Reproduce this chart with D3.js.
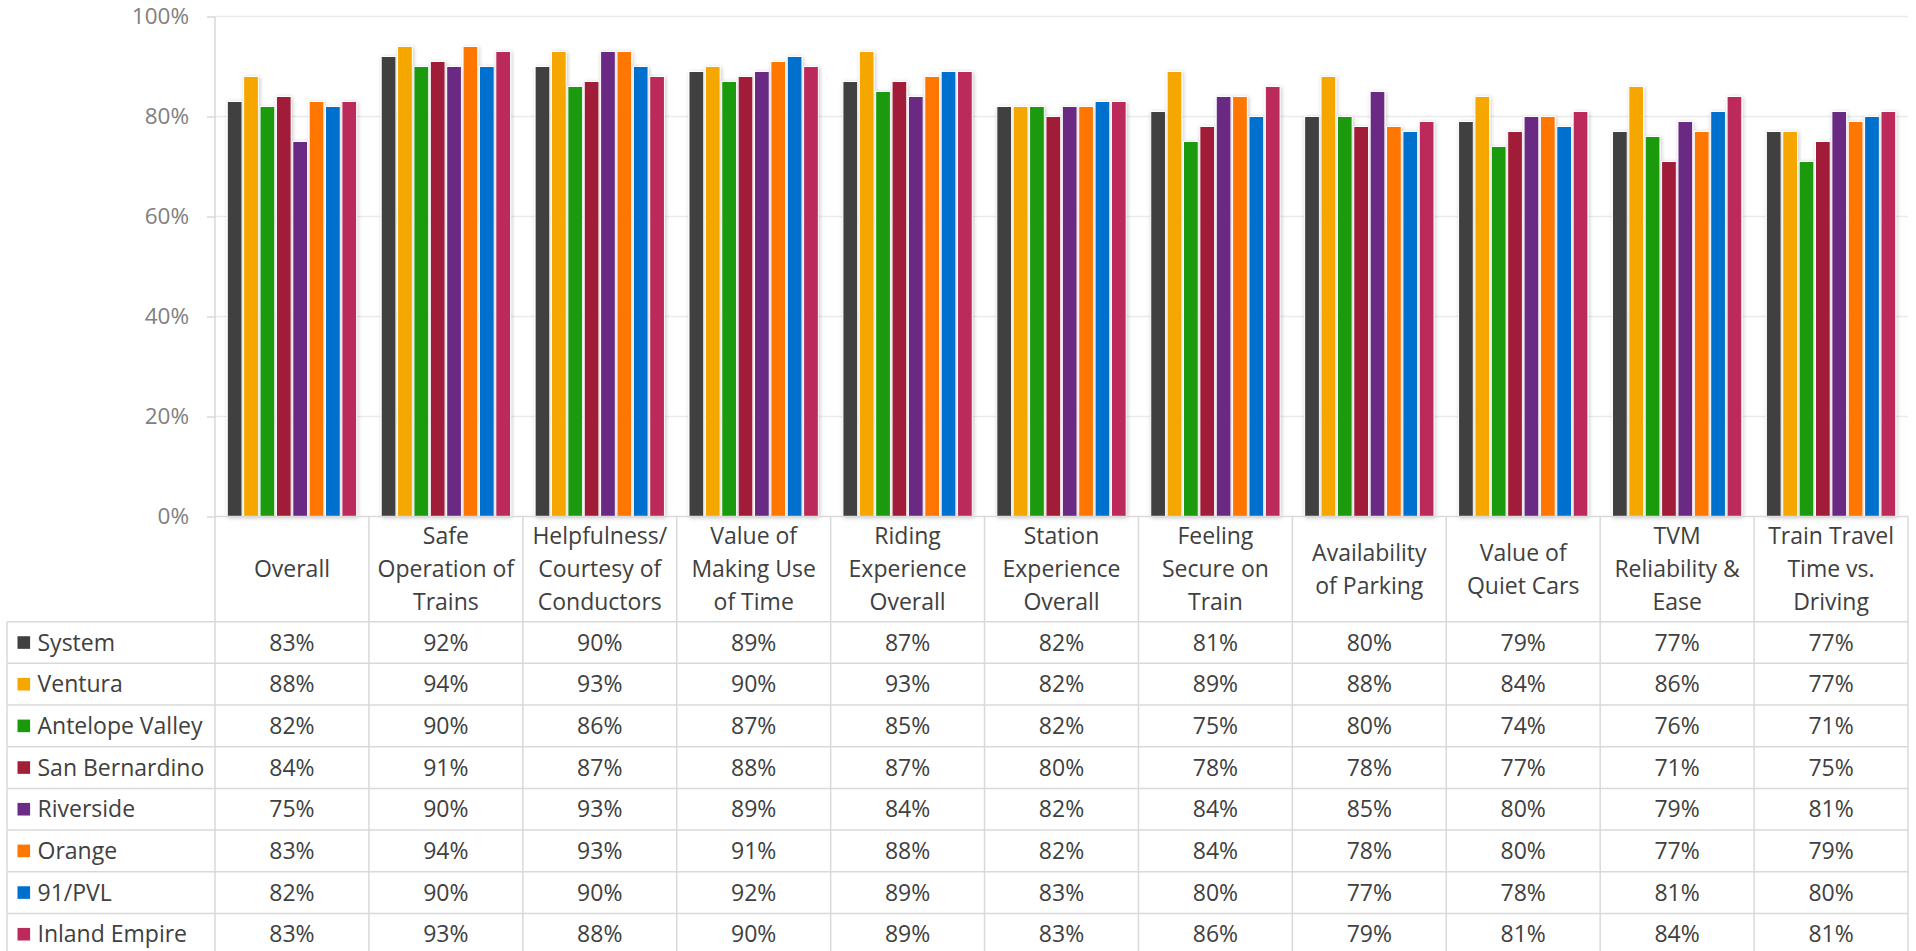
<!DOCTYPE html>
<html>
<head>
<meta charset="utf-8">
<script src="https://cdn.jsdelivr.net/npm/d3@7"></script>
<style>
  html, body { margin: 0; padding: 0; background: #fff; }
  svg { display: block; }
  text { font-family: "Open Sans", "Noto Sans", sans-serif; }
</style>
</head>
<body>
<svg id="chart" width="1916" height="951"></svg>
<script>
// ---------- DATA ----------
const categories = [
  "Overall", "Safe Operation of Trains", "Helpfulness/ Courtesy of Conductors",
  "Value of Making Use of Time", "Riding Experience Overall", "Station Experience Overall",
  "Feeling Secure on Train", "Availability of Parking", "Value of Quiet Cars",
  "TVM Reliability & Ease", "Train Travel Time vs. Driving"
];
const categoryLines = [
  ["Overall"], ["Safe", "Operation of", "Trains"], ["Helpfulness/", "Courtesy of", "Conductors"],
  ["Value of", "Making Use", "of Time"], ["Riding", "Experience", "Overall"], ["Station", "Experience", "Overall"],
  ["Feeling", "Secure on", "Train"], ["Availability", "of Parking"], ["Value of", "Quiet Cars"],
  ["TVM", "Reliability &", "Ease"], ["Train Travel", "Time vs.", "Driving"]
];
const seriesNames = ["System", "Ventura", "Antelope Valley", "San Bernardino", "Riverside", "Orange", "91/PVL", "Inland Empire"];
const seriesColors = ["#404040", "#F5A700", "#1A9A0A", "#A11F37", "#6A2C84", "#FF7700", "#0070CF", "#BC2A5C"];
const systemVals        = [83, 92, 90, 89, 87, 82, 81, 80, 79, 77, 77];
const venturaVals       = [88, 94, 93, 90, 93, 82, 89, 88, 84, 86, 77];
const antelopeVals      = [82, 90, 86, 87, 85, 82, 75, 80, 74, 76, 71];
const sanBernardinoVals = [84, 91, 87, 88, 87, 80, 78, 78, 77, 71, 75];
const riversideVals     = [75, 90, 93, 89, 84, 82, 84, 85, 80, 79, 81];
const orangeVals        = [83, 94, 93, 91, 88, 82, 84, 78, 80, 77, 79];
const pvlVals           = [82, 90, 90, 92, 89, 83, 80, 77, 78, 81, 80];
const inlandEmpireVals  = [83, 93, 88, 90, 89, 83, 86, 79, 81, 84, 81];
const seriesValues = [systemVals, venturaVals, antelopeVals, sanBernardinoVals, riversideVals, orangeVals, pvlVals, inlandEmpireVals];
const yTicks = [0, 20, 40, 60, 80, 100];

// ---------- LAYOUT ----------
const svg = d3.select("#chart");
const plotLeft = 215, plotRight = 1908;
const plotTop = 16.5, plotBottom = 516.5;
const tableLeft = 7;
const headerBottom = 621.7;
const rowH = 41.67;
const gridColor = "#D9D9D9";
const textColor = "#404040";
const fontSize = 23;

const x0 = d3.scaleBand().domain(categories).range([plotLeft, plotRight]).padding(0);
const x1 = d3.scaleBand().domain(seriesNames).range([0, x0.bandwidth()]).paddingInner(0.1).paddingOuter(0.75);
const y = d3.scaleLinear().domain([0, 100]).range([plotBottom, plotTop]);

const defs = svg.append("defs");
const f = defs.append("filter").attr("id", "shadow").attr("x", "-30%").attr("y", "-10%").attr("width", "160%").attr("height", "120%");
f.append("feDropShadow").attr("dx", 1).attr("dy", 1).attr("stdDeviation", 2).attr("flood-color", "#000").attr("flood-opacity", 0.22);

// gridlines
svg.append("g").selectAll("line").data(yTicks.filter(d => d > 0)).join("line")
  .attr("x1", plotLeft).attr("x2", plotRight)
  .attr("y1", d => y(d)).attr("y2", d => y(d))
  .attr("stroke", "#EBEBEB").attr("stroke-width", 1.5);

// y axis
const yAxis = d3.axisLeft(y).tickValues(yTicks).tickFormat(d => d + "%").tickSize(8).tickPadding(18);
const yg = svg.append("g").attr("transform", `translate(${plotLeft},0)`).call(yAxis);
yg.select(".domain").remove();
yg.selectAll(".tick line").attr("stroke", gridColor).attr("stroke-width", 1.5);
yg.selectAll(".tick text").attr("fill", "#808080").style("font-size", "22.5px").style("font-family", '"Open Sans", sans-serif');

// bars
const groups = svg.append("g").selectAll("g").data(categories).join("g")
  .attr("transform", d => `translate(${x0(d)},0)`);
groups.selectAll("rect").data((c, ci) => seriesNames.map((s, si) => ({ s, si, v: seriesValues[si][ci] }))).join("rect")
  .attr("x", d => x1(d.s))
  .attr("width", x1.bandwidth())
  .attr("y", d => y(d.v))
  .attr("height", d => y(0) - y(d.v))
  .attr("fill", d => seriesColors[d.si])
  .attr("stroke", "#fff").attr("stroke-width", 1)
  .attr("filter", "url(#shadow)");

// ---------- TABLE ----------
const tbl = svg.append("g");
const nRows = seriesNames.length;
const tableBottom = headerBottom + nRows * rowH;
tbl.append("line").attr("x1", plotLeft).attr("x2", plotRight).attr("y1", plotBottom).attr("y2", plotBottom)
  .attr("stroke", gridColor).attr("stroke-width", 1.5);
d3.range(nRows + 1).forEach(i => {
  tbl.append("line").attr("x1", tableLeft).attr("x2", plotRight)
    .attr("y1", headerBottom + i * rowH).attr("y2", headerBottom + i * rowH)
    .attr("stroke", gridColor).attr("stroke-width", 1.5);
});
tbl.append("line").attr("x1", tableLeft).attr("x2", tableLeft).attr("y1", headerBottom).attr("y2", tableBottom)
  .attr("stroke", gridColor).attr("stroke-width", 1.5);
tbl.append("line").attr("x1", plotLeft).attr("x2", plotLeft).attr("y1", plotTop).attr("y2", tableBottom)
  .attr("stroke", gridColor).attr("stroke-width", 1.5);
categories.forEach(c => {
  const xr = x0(c) + x0.bandwidth();
  tbl.append("line").attr("x1", xr).attr("x2", xr).attr("y1", plotBottom).attr("y2", tableBottom)
    .attr("stroke", gridColor).attr("stroke-width", 1.5);
});
const headerMid = (plotBottom + headerBottom) / 2;
const lineH = 32.7;
categories.forEach((c, ci) => {
  const lines = categoryLines[ci];
  const t = tbl.append("text").attr("text-anchor", "middle").attr("fill", textColor)
    .style("font-size", fontSize + "px");
  lines.forEach((ln, li) => {
    t.append("tspan").attr("x", x0(c) + x0.bandwidth() / 2)
      .attr("y", headerMid + (li - (lines.length - 1) / 2) * lineH)
      .attr("dy", "0.35em").text(ln);
  });
});
seriesNames.forEach((s, si) => {
  const cy = headerBottom + si * rowH + rowH / 2;
  tbl.append("rect").attr("x", 17.5).attr("y", cy - 6.3).attr("width", 12.6).attr("height", 12.6)
    .attr("fill", seriesColors[si]);
  tbl.append("text").attr("x", 37.5).attr("y", cy).attr("dy", "0.35em").attr("fill", textColor)
    .style("font-size", fontSize + "px").text(s);
  categories.forEach((c, ci) => {
    tbl.append("text").attr("x", x0(c) + x0.bandwidth() / 2).attr("y", cy).attr("dy", "0.35em")
      .attr("text-anchor", "middle").attr("fill", textColor).style("font-size", fontSize + "px")
      .text(seriesValues[si][ci] + "%");
  });
});
</script>
</body>
</html>
